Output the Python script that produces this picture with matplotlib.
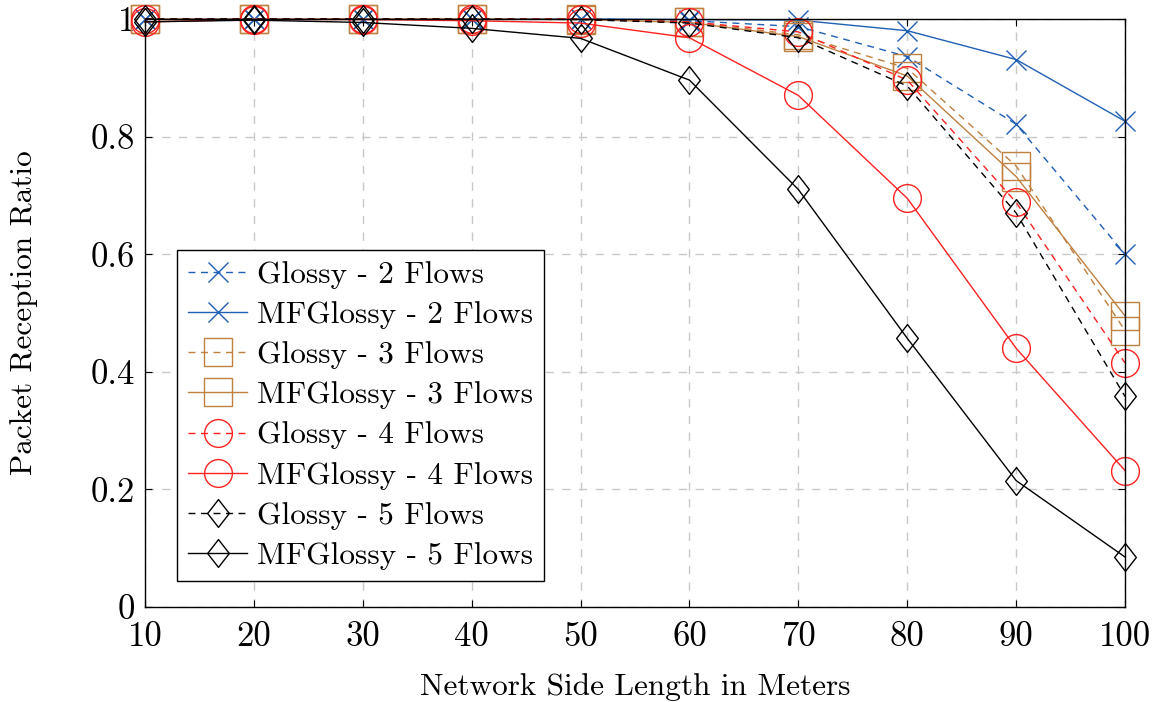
import numpy as np
import matplotlib
matplotlib.use("Agg")
from matplotlib import pyplot as plt
from matplotlib.path import Path

plt.rcParams["font.family"] = "cmr10"
plt.rcParams["mathtext.fontset"] = "cm"
plt.rcParams["axes.formatter.use_mathtext"] = True

# data
side_length = [10, 20, 30, 40, 50, 60, 70, 80, 90, 100]
glossy_2 = [1.0, 1.0, 1.0, 1.0, 1.0, 0.997, 0.987, 0.936, 0.821, 0.600]
mfglossy_2 = [1.0, 1.0, 1.0, 1.0, 1.0, 0.999, 0.998, 0.980, 0.931, 0.826]
glossy_3 = [1.0, 1.0, 1.0, 1.0, 1.0, 0.995, 0.973, 0.916, 0.750, 0.470]
mfglossy_3 = [1.0, 1.0, 1.0, 1.0, 0.999, 0.994, 0.970, 0.903, 0.732, 0.495]
glossy_4 = [1.0, 1.0, 1.0, 1.0, 1.0, 0.995, 0.978, 0.896, 0.688, 0.415]
mfglossy_4 = [0.995, 0.999, 0.999, 0.997, 0.993, 0.968, 0.870, 0.695, 0.440, 0.232]
glossy_5 = [1.0, 1.0, 1.0, 1.0, 0.999, 0.993, 0.968, 0.886, 0.670, 0.358]
mfglossy_5 = [0.995, 0.998, 0.994, 0.984, 0.967, 0.896, 0.710, 0.457, 0.215, 0.085]

y_ticks = [0, 0.2, 0.4, 0.6, 0.8, 1]
y_tick_labels = ["0", "0.2", "0.4", "0.6", "0.8", "1"]

blue = "#1f5fb4"
brown = "#bf8040"
red = "#ff2020"

# pgfplots-like diamond (taller than wide)
diamond = Path([(0, 1), (0.78, 0), (0, -1), (-0.78, 0), (0, 1)],
               [Path.MOVETO, Path.LINETO, Path.LINETO, Path.LINETO, Path.CLOSEPOLY])

series = [
    (glossy_2, "Glossy - 2 Flows", blue, "x", True),
    (mfglossy_2, "MFGlossy - 2 Flows", blue, "x", False),
    (glossy_3, "Glossy - 3 Flows", brown, "s", True),
    (mfglossy_3, "MFGlossy - 3 Flows", brown, "s", False),
    (glossy_4, "Glossy - 4 Flows", red, "o", True),
    (mfglossy_4, "MFGlossy - 4 Flows", red, "o", False),
    (glossy_5, "Glossy - 5 Flows", "black", diamond, True),
    (mfglossy_5, "MFGlossy - 5 Flows", "black", diamond, False),
]
marker_sizes = {"x": 15, "s": 20, "o": 20}

fig = plt.figure(figsize=(11.59, 7.02), dpi=100)
ax = fig.add_axes([0.1251, 0.1353, 0.8456, 0.8377])

for vals, label, color, marker, dashed in series:
    ms = marker_sizes.get(marker, 20) if isinstance(marker, str) else 20
    line, = ax.plot(side_length, vals, color=color, marker=marker, markersize=ms,
                    markerfacecolor="none", markeredgecolor=color, markeredgewidth=1.0,
                    linewidth=1.0, label=label, clip_on=False)
    if dashed:
        line.set_dashes((5, 4))

ax.set_xlim(10, 100)
ax.set_ylim(0, 1)
ax.set_xticks(side_length)
ax.set_xticklabels([str(v) for v in side_length])
ax.set_yticks(y_ticks)
ax.set_yticklabels(y_tick_labels)
ax.tick_params(direction="in", top=True, right=True, length=5, labelsize=25, pad=7)
ax.tick_params(axis="x", pad=10)
ax.grid(True, color="#c8c8c8", linestyle=(0, (6, 6)), linewidth=1.0)
for sp in ax.spines.values():
    sp.set_linewidth(1.0)
    sp.set_zorder(5)

ax.set_xlabel("Network Side Length in Meters", fontsize=22.5, labelpad=15)
ax.set_ylabel("Packet Reception Ratio", fontsize=22.5, labelpad=38)

leg = ax.legend(loc="upper left", bbox_to_anchor=(0.0327, 0.607), borderaxespad=0,
                fontsize=22.5, fancybox=False, framealpha=1, edgecolor="black",
                handlelength=1.9, handletextpad=0.3, labelspacing=0.39,
                borderpad=0.35)
leg.get_frame().set_linewidth(1.0)
leg.set_zorder(10)

fig.savefig("out.png", dpi=100)
